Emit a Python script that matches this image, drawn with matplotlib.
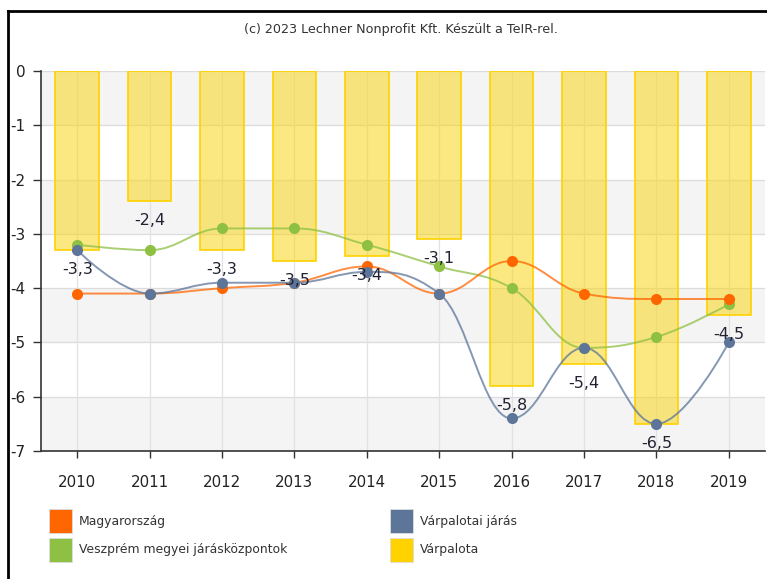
import matplotlib
matplotlib.use("Agg")
import matplotlib.pyplot as plt
from matplotlib.path import Path
from matplotlib.patches import PathPatch, Rectangle
from matplotlib.lines import Line2D
import numpy as np

plt.rcParams['font.family'] = ['DejaVu Sans']
plt.rcParams['axes.unicode_minus'] = False

years = ['2010', '2011', '2012', '2013', '2014', '2015', '2016', '2017', '2018', '2019']
magyarorszag = [-4.1, -4.1, -4.0, -3.9, -3.6, -4.1, -3.5, -4.1, -4.2, -4.2]
varpalotai_jaras = [-3.3, -4.1, -3.9, -3.9, -3.7, -4.1, -6.4, -5.1, -6.5, -5.0]
veszprem = [-3.2, -3.3, -2.9, -2.9, -3.2, -3.6, -4.0, -5.1, -4.9, -4.3]
varpalota = [-3.3, -2.4, -3.3, -3.5, -3.4, -3.1, -5.8, -5.4, -6.5, -4.5]

series_names = ['Magyarország', 'Várpalotai járás', 'Veszprém megyei járásközpontok', 'Várpalota']
c_orange = '#FF6600'
c_blue = '#5C7599'
c_green = '#8DC043'
c_gold = '#FFD200'

W, H = 767, 579
fig = plt.figure(figsize=(W / 100, H / 100), dpi=100)
L, R, T, B = 41, 765, 71, 451
ax = fig.add_axes([L / W, 1 - B / H, (R - L) / W, (B - T) / H])

x = np.arange(len(years))
ax.set_xlim(-0.5, len(years) - 0.5)
ax.set_ylim(-7, 0)

# alternating bands
for k in range(7):
    if k % 2 == 0:
        ax.axhspan(-k - 1, -k, color='#F4F4F4', zorder=0, lw=0)
for k in range(0, 8):
    ax.axhline(-k, color='#DCDCDC', lw=0.9, zorder=0.5)
for xi in x:
    ax.axvline(xi, color='#E2E2E2', lw=0.9, zorder=0.5)

ax.bar(x, varpalota, width=0.6, color=(0.98, 0.84, 0.1, 0.55), edgecolor=c_gold, linewidth=1.2, zorder=1)


def spline_path(xs, ys):
    s = 1.5
    d = s + 1
    n = len(xs)
    lc = [None] * n
    rc = [None] * n
    for i in range(1, n - 1):
        px, py = xs[i], ys[i]
        lx, ly = xs[i - 1], ys[i - 1]
        nx, ny = xs[i + 1], ys[i + 1]
        lcx = (s * px + lx) / d
        lcy = (s * py + ly) / d
        rcx = (s * px + nx) / d
        rcy = (s * py + ny) / d
        corr = 0
        if rcx != lcx:
            corr = ((rcy - lcy) * (rcx - px)) / (rcx - lcx) + py - rcy
        lcy += corr
        rcy += corr
        if lcy > ly and lcy > py:
            lcy = max(ly, py)
            rcy = 2 * py - lcy
        elif lcy < ly and lcy < py:
            lcy = min(ly, py)
            rcy = 2 * py - lcy
        if rcy > ny and rcy > py:
            rcy = max(ny, py)
            lcy = 2 * py - rcy
        elif rcy < ny and rcy < py:
            rcy = min(ny, py)
            lcy = 2 * py - rcy
        lc[i] = (lcx, lcy)
        rc[i] = (rcx, rcy)
    verts = [(xs[0], ys[0])]
    codes = [Path.MOVETO]
    for i in range(1, n):
        c1 = rc[i - 1] if rc[i - 1] is not None else (xs[i - 1], ys[i - 1])
        c2 = lc[i] if lc[i] is not None else (xs[i], ys[i])
        verts += [c1, c2, (xs[i], ys[i])]
        codes += [Path.CURVE4] * 3
    return Path(verts, codes)


for vals, col, z in [(veszprem, c_green, 3), (magyarorszag, c_orange, 4), (varpalotai_jaras, c_blue, 5)]:
    p = spline_path(list(x.astype(float)), vals)
    ax.add_patch(PathPatch(p, facecolor='none', edgecolor=col, lw=1.4, alpha=0.75, zorder=z))
    ax.plot(x, vals, 'o', color=col, ms=8, mec='none', zorder=z + 0.5)

for xi, v in zip(x, varpalota):
    ax.annotate(f"{v:.1f}".replace('.', ','), (xi, v), xytext=(0, -14), textcoords='offset points',
                ha='center', va='center', fontsize=11.5, color='#222233', zorder=10)

ax.set_xticks(x)
ax.set_xticklabels(years, fontsize=10.8, color='#222222')
ax.set_yticks(range(0, -8, -1))
ax.set_yticklabels([str(v) for v in range(0, -8, -1)], fontsize=11, color='#222222')
ax.tick_params(axis='y', length=6, width=1, color='#333333', pad=5)
ax.tick_params(axis='x', length=5, width=1, color='#333333', pad=12)
for sp in ['top', 'right']:
    ax.spines[sp].set_visible(False)
for sp in ['left', 'bottom']:
    ax.spines[sp].set_color('#333333')
    ax.spines[sp].set_linewidth(1.2)

fig.text(401 / W, 1 - 29 / H, '(c) 2023 Lechner Nonprofit Kft. Készült a TeIR-rel.',
         ha='center', va='center', fontsize=9.2, color='#333333')

# outer frame (top and left)
fig.add_artist(Line2D([8 / W, 1], [1 - 11 / H, 1 - 11 / H], color='black', lw=2, transform=fig.transFigure))
fig.add_artist(Line2D([8 / W, 8 / W], [0, 1 - 11 / H], color='black', lw=2, transform=fig.transFigure))

# legend
leg = [(series_names[0], c_orange, 49, 509), (series_names[1], c_blue, 390, 509),
       (series_names[2], c_green, 49, 538), (series_names[3], c_gold, 390, 538)]
for name, col, lx, ly in leg:
    fig.add_artist(Rectangle((lx / W, 1 - (ly + 24) / H), 23 / W, 24 / H, transform=fig.transFigure,
                             facecolor=col, edgecolor='#dddddd', lw=0.6))
    fig.text((lx + 30) / W, 1 - (ly + 12) / H, name, ha='left', va='center', fontsize=8.9, color='#333333')

fig.savefig('out.png', dpi=100)
